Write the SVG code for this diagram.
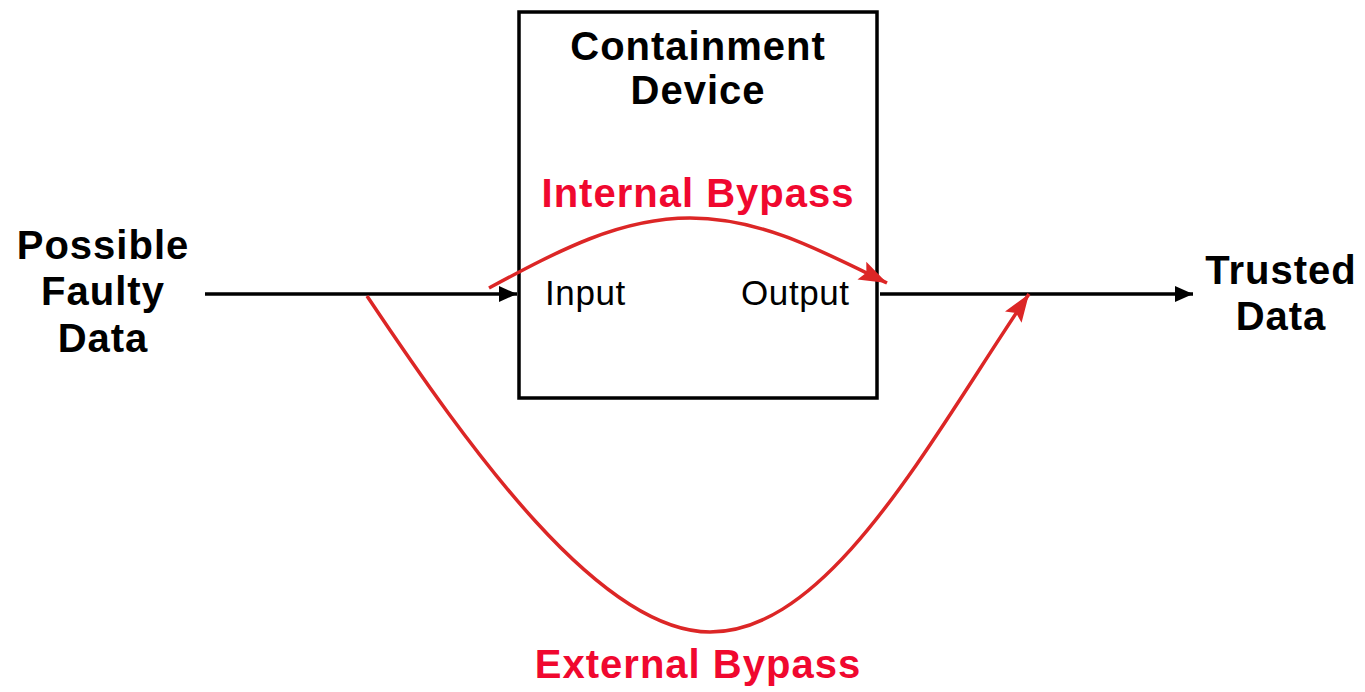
<svg xmlns="http://www.w3.org/2000/svg" width="1365" height="692" viewBox="0 0 1365 692">
<defs>
<style>
.b{font-family:"Liberation Sans",Arial,sans-serif;font-weight:bold;font-size:40px;letter-spacing:1px;text-anchor:middle;fill:#000}
.r{fill:#f0082f}
.n{font-family:"Liberation Sans",Arial,sans-serif;font-size:35px;letter-spacing:0.6px;fill:#000}
.bl{stroke:#000;stroke-width:3.5;fill:none}
.rd{stroke:#dc2626;stroke-width:3.5;fill:none}
</style>
<marker id="ab" markerUnits="userSpaceOnUse" markerWidth="20" markerHeight="20" viewBox="0 0 20 20" refX="18" refY="10" orient="auto"><path d="M0,2 L18,10 L0,18 Z" fill="#000"/></marker>
<marker id="ar" markerUnits="userSpaceOnUse" markerWidth="30" markerHeight="24" viewBox="0 0 30 24" refX="28" refY="12" orient="auto"><path d="M0,2 L28,12 L0,22 L5,12 Z" fill="#dc2626"/></marker>
</defs>
<g id="device">
<rect x="519" y="12" width="358" height="386" fill="#fff" stroke="#000" stroke-width="3.5"/>
<text class="b" x="698" y="60">Containment</text>
<text class="b" x="698" y="104">Device</text>
<text class="n" x="545" y="305">Input</text>
<text class="n" x="741" y="305">Output</text>
</g>
<g id="source">
<text class="b" x="103" y="259">Possible</text>
<text class="b" x="103" y="305">Faulty</text>
<text class="b" x="103" y="352">Data</text>
</g>
<g id="sink">
<text class="b" x="1281" y="284">Trusted</text>
<text class="b" x="1281" y="330">Data</text>
</g>
<g id="connectors">
<line class="bl" x1="205" y1="294" x2="517" y2="294" marker-end="url(#ab)"/>
<line class="bl" x1="880" y1="294" x2="1193" y2="294" marker-end="url(#ab)"/>
<path class="rd" d="M489,288 C560,250 620,218 690,218 C760,218 820,250 887,283" marker-end="url(#ar)"/>
<path class="rd" d="M367,296 C470,450 600,632 710,632 C830,632 930,440 1029,294" marker-end="url(#ar)"/>
</g>
<g id="labels">
<text class="b r" x="698" y="207">Internal Bypass</text>
<text class="b r" x="698" y="678">External Bypass</text>
</g>
</svg>
